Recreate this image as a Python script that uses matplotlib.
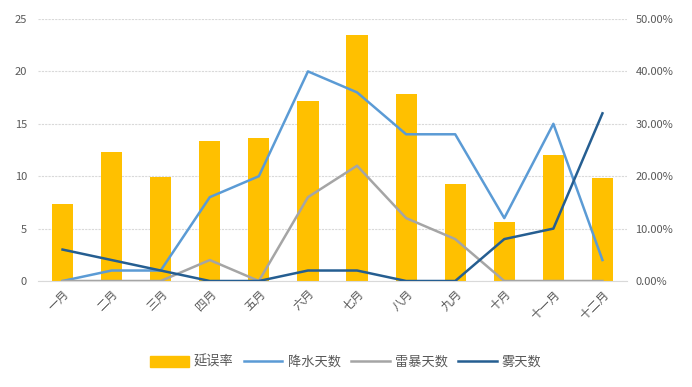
import matplotlib
matplotlib.use("Agg")
import matplotlib.pyplot as plt
import numpy as np
from matplotlib.patches import Patch
from matplotlib.lines import Line2D
from matplotlib.ticker import PercentFormatter

plt.rcParams["font.family"] = ["Noto Sans CJK SC", "DejaVu Sans"]

months = ["一月", "二月", "三月", "四月", "五月", "六月",
          "七月", "八月", "九月", "十月", "十一月", "十二月"]
delay_rate = [14.7, 24.6, 19.8, 26.7, 27.3, 34.3, 47.0, 35.7, 18.5, 11.3, 24.0, 19.7]
rain_days = [0, 1, 1, 8, 10, 20, 18, 14, 14, 6, 15, 2]
storm_days = [0, 0, 0, 2, 0, 8, 11, 6, 4, 0, 0, 0]
fog_days = [3, 2, 1, 0, 0, 1, 1, 0, 0, 4, 5, 16]

BAR_COLOR = "#FFC000"
RAIN_COLOR = "#5B9BD5"
STORM_COLOR = "#A5A5A5"
FOG_COLOR = "#255E91"
TEXT_COLOR = "#595959"
GRID_COLOR = "#D9D9D9"

fig = plt.figure(figsize=(6.92, 3.87), dpi=100)
ax_bar = fig.add_axes([38 / 692, 1 - 281 / 387, 589 / 692, 262 / 387])
x = np.arange(len(months))

ax_bar.bar(x, delay_rate, width=0.43, color=BAR_COLOR, zorder=2)
ax_bar.set_ylim(0, 50)
ax_bar.set_yticks(np.arange(0, 51, 10))
ax_bar.yaxis.set_major_formatter(PercentFormatter(decimals=2))
ax_bar.grid(axis="y", color=GRID_COLOR, linewidth=0.8, linestyle=(0, (2, 1)), zorder=0)
ax_bar.set_xlim(-0.5, len(months) - 0.5)
ax_bar.set_xticks(x)
ax_bar.set_xticklabels(months, rotation=45, ha="right", rotation_mode="anchor")

ax_line = ax_bar.twinx()
ax_line.set_ylim(0, 25)
ax_line.set_yticks(np.arange(0, 26, 5))
ax_line.plot(x, rain_days, color=RAIN_COLOR, linewidth=1.8)
ax_line.plot(x, storm_days, color=STORM_COLOR, linewidth=1.8)
ax_line.plot(x, fog_days, color=FOG_COLOR, linewidth=1.8)

# twinx puts the original axis on the left, swap them
ax_bar.yaxis.tick_right()
ax_line.yaxis.tick_left()

for a in (ax_bar, ax_line):
    for side in ("top", "left", "right", "bottom"):
        a.spines[side].set_visible(False)
    a.tick_params(length=0, colors=TEXT_COLOR, labelsize=8)
ax_bar.spines["bottom"].set_visible(True)
ax_bar.spines["bottom"].set_color(GRID_COLOR)
ax_bar.tick_params(axis="y", pad=6)
ax_bar.tick_params(axis="x", pad=5, labelsize=8.5)
ax_line.tick_params(axis="y", pad=8)

handles = [
    Patch(color=BAR_COLOR),
    Line2D([], [], color=RAIN_COLOR, linewidth=1.8),
    Line2D([], [], color=STORM_COLOR, linewidth=1.8),
    Line2D([], [], color=FOG_COLOR, linewidth=1.8),
]
labels = ["延误率", "降水天数", "雷暴天数", "雾天数"]
leg = fig.legend(handles, labels, loc="center", bbox_to_anchor=(0.5, 1 - 362 / 387),
                 ncol=4, frameon=False, fontsize=9.5, handlelength=2.9, handleheight=0.9,
                 handletextpad=0.4, columnspacing=0.8)
for t in leg.get_texts():
    t.set_color(TEXT_COLOR)

fig.savefig("out.png", dpi=100, facecolor="white")
